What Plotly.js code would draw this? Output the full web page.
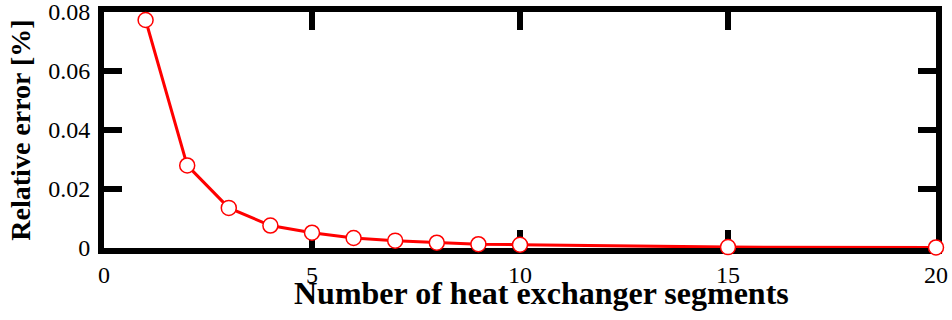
<!DOCTYPE html>
<html>
<head>
<meta charset="utf-8">
<script src="https://cdn.plot.ly/plotly-3.0.1.min.js"></script>
<style>
  html, body { margin: 0; padding: 0; background: #ffffff; }
  #chart { width: 952px; height: 320px; }
</style>
</head>
<body>
<div id="chart"></div>
<script>
// Relative error versus number of heat exchanger segments
const segments = [1, 2, 3, 4, 5, 6, 7, 8, 9, 10, 15, 20];
const relativeError = [0.0773, 0.0280, 0.0136, 0.0076, 0.0052, 0.0034, 0.0025, 0.0018, 0.0013, 0.0011, 0.0003, 0.0002];
const xTicks = [0, 5, 10, 15, 20];
const yTicks = [0, 0.02, 0.04, 0.06, 0.08];
const yTickText = ['0', '0.02', '0.04', '0.06', '0.08'];

const serif = 'Liberation Serif';

const trace = {
  x: segments,
  y: relativeError,
  type: 'scatter',
  mode: 'lines+markers',
  cliponaxis: false,
  line: { color: '#ff0000', width: 3 },
  marker: { size: 15, color: '#ffffff', line: { color: '#ff0000', width: 1.5 } },
  hoverinfo: 'x+y'
};

// thick black frame with inward ticks on all four sides
const axisCommon = {
  showline: true,
  linecolor: '#000000',
  linewidth: 6,
  mirror: 'ticks',
  ticks: 'inside',
  ticklen: 18,
  tickwidth: 6,
  tickcolor: '#000000',
  showgrid: false,
  zeroline: false,
  layer: 'below traces',
  ticklabeloverflow: 'allow',
  tickfont: { family: serif, size: 24, color: '#000000' }
};

const layout = {
  width: 952,
  height: 320,
  margin: { l: 104, r: 16, t: 12, b: 72 },
  paper_bgcolor: '#ffffff',
  plot_bgcolor: '#ffffff',
  showlegend: false,
  font: { family: serif, color: '#000000' },
  xaxis: Object.assign({}, axisCommon, {
    range: [0, 20],
    tickmode: 'array',
    tickvals: xTicks,
    ticktext: xTicks.map(String)
  }),
  yaxis: Object.assign({}, axisCommon, {
    range: [0, 0.08],
    tickmode: 'array',
    tickvals: yTicks,
    ticktext: yTickText,
    ticklabelstandoff: 3,
    title: {
      text: '<b>Relative error [%]</b>',
      font: { family: serif, size: 28, color: '#000000' },
      standoff: 11
    }
  }),
  annotations: [{
    text: '<b>Number of heat exchanger segments</b>',
    xref: 'paper', yref: 'paper',
    x: 0.5264, y: -0.19,
    xanchor: 'center', yanchor: 'middle',
    showarrow: false,
    font: { family: serif, size: 32, color: '#000000' }
  }]
};

Plotly.newPlot('chart', [trace], layout, { displayModeBar: false, staticPlot: true });
</script>
</body>
</html>
